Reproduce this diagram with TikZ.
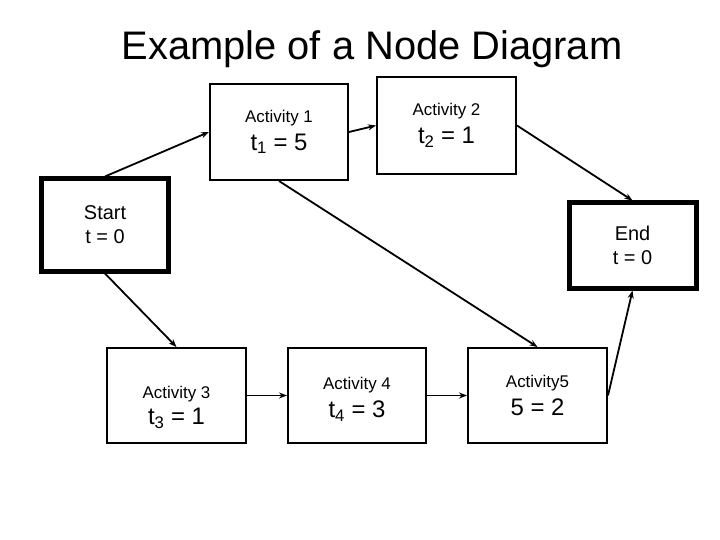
\documentclass[tikz,border=0pt]{standalone}
\usepackage{fontspec}
\setmainfont{Liberation Sans}
\usetikzlibrary{arrows.meta}
\newcommand{\smalltxt}{\fontsize{17}{20}\selectfont}
\newcommand{\midtxt}{\fontsize{20}{24}\selectfont}
\newcommand{\bigtxt}{\fontsize{24}{28}\selectfont}

\begin{document}
\begin{tikzpicture}[x=1bp,y=-1bp,
        box/.style={draw,line width=2bp,rectangle,align=center,inner sep=0pt},
        endbox/.style={box,line width=5bp},
        link/.style={->,>={Stealth[length=8bp,width=6bp]},line width=1.8bp}]
        \useasboundingbox (0,0) rectangle (720,540);
        \node[anchor=base,font=\fontsize{40}{48}\selectfont] (title) at (372,60) {Example of a Node Diagram};
        \node[box,minimum width=138bp,minimum height=96bp] (act1) at (279,132) {\smalltxt Activity 1\\[7bp]\bigtxt t\textsubscript{1} = 5};
        \node[box,minimum width=139bp,minimum height=97bp] (act2) at (446.5,125.5) {\smalltxt Activity 2\\[7bp]\bigtxt t\textsubscript{2} = 1};
        \node[endbox,minimum width=126bp,minimum height=92bp] (start) at (105,225) {\midtxt Start\\[9bp]\midtxt t = 0};
        \node[endbox,minimum width=127bp,minimum height=85bp] (finish) at (632.5,245.5) {\midtxt End\\[9bp]\midtxt t = 0};
        \node[box,minimum width=139bp,minimum height=95bp] (act3) at (176.5,395.5) {\smalltxt\rule{0pt}{36bp}Activity 3\\[5bp]\bigtxt t\textsubscript{3} = 1};
        \node[box,minimum width=138bp,minimum height=95bp] (act4) at (357,395.5) {\smalltxt\rule{0pt}{20bp}Activity 4\\[7bp]\bigtxt t\textsubscript{4} = 3};
        \node[box,minimum width=139bp,minimum height=95bp] (act5) at (537.5,395.5) {\smalltxt Activity5\\[7bp]\bigtxt 5 = 2};
        \draw[link] (start.north) -- (act1.west);
        \draw[link] (act1.east) -- (act2.west);
        \draw[link] (act2.east) -- (finish.north);
        \draw[link] (act1.south) -- (act5.north);
        \draw[link] (start.south) -- (act3.north);
        \draw[link] (act3.east) -- (act4.west);
        \draw[link] (act4.east) -- (act5.west);
        \draw[link] (act5.east) -- (finish.south);
    \end{tikzpicture}
\end{document}
